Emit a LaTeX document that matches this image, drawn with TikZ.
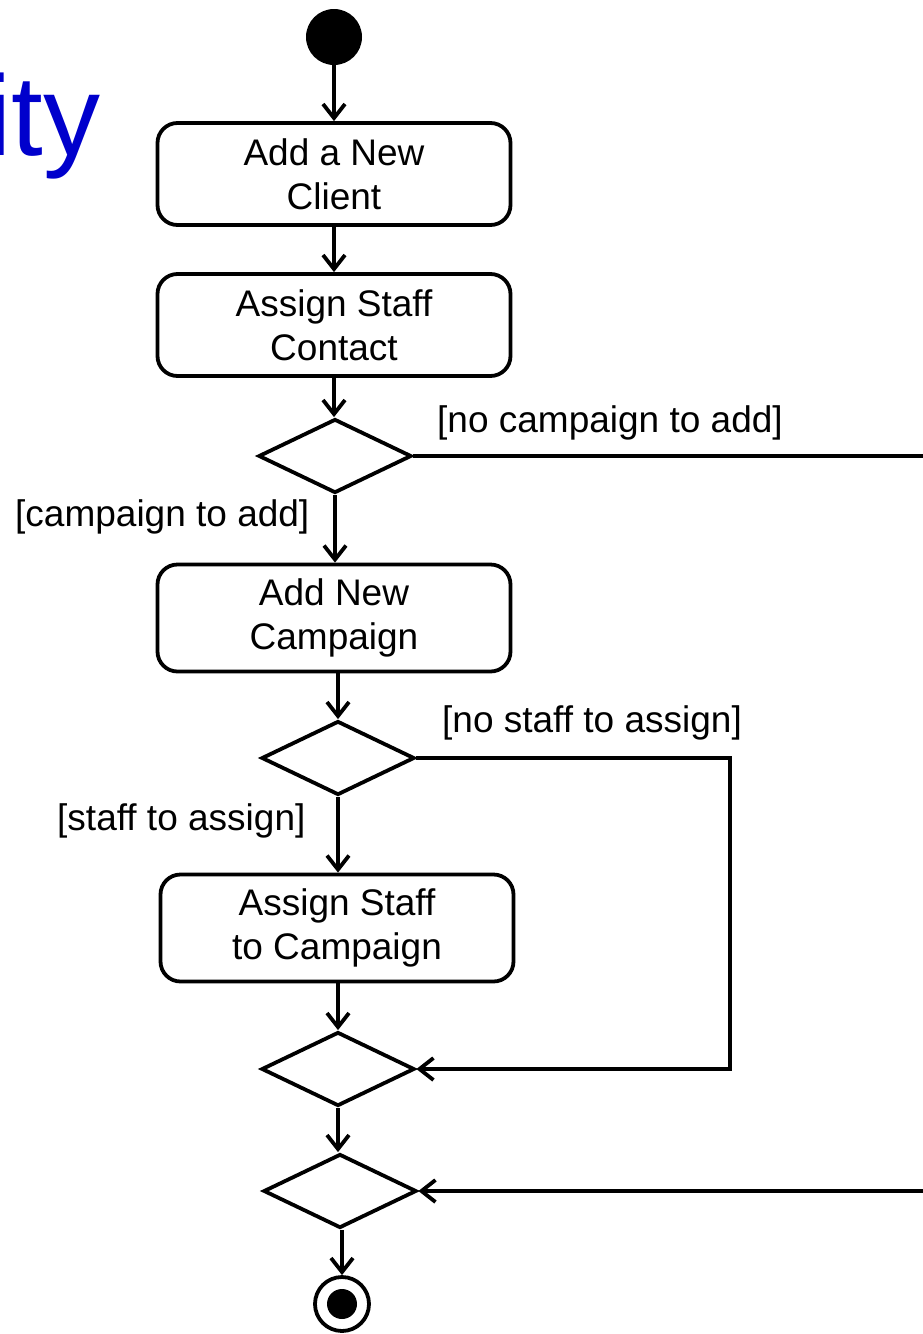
\documentclass[tikz,border=0pt]{standalone}
\usepackage{fontspec}
\setmainfont{Liberation Sans}
\usetikzlibrary{shapes.geometric,arrows.meta}
\definecolor{titleblue}{RGB}{0,0,204}
\begin{document}
\begin{tikzpicture}[x=1pt,y=-1pt,
  act/.style={draw, line width=3.8pt, rounded corners=20pt, minimum width=353pt,
    minimum height=102pt, align=center, inner sep=0pt, font=\fontsize{37}{44}\selectfont},
  dec/.style={draw, diamond, line width=3.8pt, minimum width=153pt, minimum height=74pt, inner sep=0pt},
  flow/.style={line width=3.8pt, -{Straight Barb[length=14pt,width=22pt]}},
  plain/.style={line width=3.8pt},
  lbl/.style={font=\fontsize{37}{44}\selectfont, anchor=base west, inner sep=0pt}]
\useasboundingbox (0,0) rectangle (922,1334);
\begin{scope}
\clip (0,0) rectangle (922,1334);
\node[anchor=base west, inner sep=0pt, text=titleblue, font=\fontsize{114}{130}\selectfont] (title) at (-14,155) {ity};
\end{scope}

\node[circle, fill, minimum size=56pt, inner sep=0pt] (start) at (334,37) {};
\node[act] (box1) at (334,174) {Add a New\\Client};
\node[act] (box2) at (334,325) {Assign Staff\\Contact};
\node[dec] (d1) at (335,456) {};
\node[act, minimum height=107pt] (box3) at (334,618) {Add New\\Campaign};
\node[dec] (d2) at (338,758) {};
\node[act, minimum height=107pt] (box4) at (337,928) {Assign Staff\\to Campaign};
\node[dec] (d3) at (338,1069) {};
\node[dec] (d4) at (340,1191) {};
\node[circle, draw, line width=3.8pt, minimum size=54pt, inner sep=0pt] (end) at (342,1304) {};
\fill (end.center) circle (15);

\node[lbl] (l1) at (437,432) {[no campaign to add]};
\node[lbl] (l2) at (15,526) {[campaign to add]};
\node[lbl] (l3) at (442,732) {[no staff to assign]};
\node[lbl] (l4) at (57,830) {[staff to assign]};

\coordinate (e1) at (930,456);
\coordinate (c1) at (730,758);
\coordinate (c2) at (730,1069);
\coordinate (e2) at (930,1191);

\draw[flow] (start) -- (box1);
\draw[flow] (box1) -- (box2);
\draw[flow] (box2.south) -- (box2.south |- d1.north);
\draw[plain] (d1.east) -- (e1);
\draw[flow] (d1.south) -- (d1.south |- box3.north);
\draw[flow] (d2.north |- box3.south) -- (d2.north);
\draw[flow] (d2.east) -- (c1) -- (c2) -- (d3.east);
\draw[flow] (d2.south) -- (d2.south |- box4.north);
\draw[flow] (d3.north |- box4.south) -- (d3.north);
\draw[flow] (d3.south) -- (d3.south |- d4.north);
\draw[flow] (e2) -- (d4.east);
\draw[flow] (end.north |- d4.south) -- (end.north);
\end{tikzpicture}
\end{document}
